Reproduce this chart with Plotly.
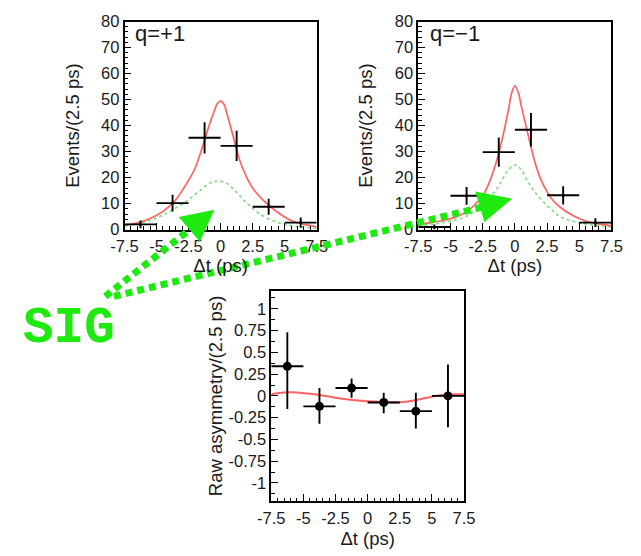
import plotly.graph_objects as go

W, H = 641, 556

# ---------------- data ----------------
dt_bins = [-6.25, -3.75, -1.25, 1.25, 3.75, 6.25]
bin_half = 1.25

qp_events = [2.0, 10.2, 35.3, 32.2, 8.8, 2.7]
qp_err = [1.5, 3.2, 6.0, 5.8, 3.1, 2.0]
qm_events = [1.0, 13.0, 29.8, 38.4, 13.2, 2.7]
qm_err = [1.0, 3.4, 5.6, 6.4, 3.5, 1.7]

asym = [0.34, -0.12, 0.09, -0.075, -0.175, 0.0]
asym_err_up = [0.39, 0.21, 0.11, 0.11, 0.21, 0.36]
asym_err_dn = [0.49, 0.20, 0.11, 0.125, 0.20, 0.36]

# fit curves
qp_curve_x = [-7.5, -6.5, -5.5, -4.5, -3.5, -2.5, -2.0, -1.5, -1.0, -0.5, -0.25, 0.0,
              0.25, 0.5, 1.0, 1.5, 2.0, 2.5, 3.5, 4.5, 5.5, 6.5, 7.5]
qp_total = [1.7, 2.6, 4.3, 7.0, 11.5, 19.0, 23.5, 30.5, 38.5, 45.5, 48.5, 49.5,
            48.3, 44.5, 35.5, 26.5, 20.5, 16.0, 10.5, 6.5, 3.5, 2.0, 1.1]
qp_sig_x = [-7.5, -6.5, -5.5, -4.5, -3.5, -2.5, -1.5, -1.0, -0.5, -0.2,
            0.5, 1.0, 1.5, 2.0, 2.5, 3.0, 4.0, 5.0, 6.0, 7.5]
qp_sig = [1.3, 2.2, 3.5, 5.6, 8.3, 11.5, 15.5, 17.4, 18.5, 18.7,
          17.8, 15.5, 13.0, 10.4, 8.3, 6.2, 3.6, 2.0, 1.2, 0.5]

qm_curve_x = [-7.5, -6.5, -5.5, -4.5, -3.5, -3.0, -2.5, -2.0, -1.5, -1.0, -0.5, -0.25, 0.0,
              0.25, 0.5, 1.0, 1.5, 2.0, 2.5, 3.0, 3.5, 4.5, 5.5, 6.5, 7.5]
qm_total = [2.0, 2.7, 3.6, 5.0, 7.8, 10.2, 13.0, 18.0, 25.0, 34.5, 46.0, 52.5, 55.3,
            53.0, 47.5, 37.0, 27.0, 19.5, 14.5, 11.0, 8.7, 5.4, 3.3, 2.2, 1.5]
qm_sig_x = [-7.5, -6.5, -5.5, -4.5, -3.5, -2.5, -2.0, -1.5, -1.0, -0.5, 0.0,
            0.5, 1.0, 1.5, 2.0, 2.5, 3.0, 3.5, 4.5, 5.5, 6.5, 7.5]
qm_sig = [1.5, 2.0, 2.8, 3.8, 5.8, 9.6, 12.3, 15.0, 19.0, 23.0, 24.9,
          23.0, 18.5, 14.8, 11.8, 9.2, 7.0, 5.0, 3.2, 2.2, 1.5, 1.1]

asym_curve_x = [-7.5, -6.5, -5.5, -4.5, -3.5, -2.5, -1.5, -0.5, 0.5, 1.5,
                2.5, 3.5, 4.5, 5.5, 6.5, 7.5]
asym_curve = [0.02, 0.04, 0.04, 0.025, 0.005, -0.02, -0.04, -0.055, -0.065, -0.072,
              -0.072, -0.055, -0.025, 0.005, 0.018, 0.02]

x_ticks = [-7.5, -5, -2.5, 0, 2.5, 5, 7.5]
x_ticktext = ["-7.5", "-5", "-2.5", "0", "2.5", "5", "7.5"]
ev_ticks = [0, 10, 20, 30, 40, 50, 60, 70, 80]
as_ticks = [-1, -0.75, -0.5, -0.25, 0, 0.25, 0.5, 0.75, 1]
as_ticktext = ["-1", "-0.75", "-0.5", "-0.25", "0", "0.25", "0.5", "0.75", "1"]

# ---------------- styles ----------------
FONT = "Liberation Sans, Arial, sans-serif"
RED = "rgba(255,70,70,0.85)"
LGREEN = "rgba(120,215,120,0.95)"
GREEN = "#1eea10"


def px(x):
    return x / W


def py(y):
    return 1 - y / H


fig = go.Figure()


def add_panel(xa, ya, tot_x, tot, sig_x, sig, ev, err):
    fig.add_trace(go.Scatter(x=sig_x, y=sig, mode="lines", xaxis=xa, yaxis=ya,
                             line=dict(color=LGREEN, width=1.6, dash="dot", shape="spline"),
                             hoverinfo="skip"))
    fig.add_trace(go.Scatter(x=tot_x, y=tot, mode="lines", xaxis=xa, yaxis=ya,
                             line=dict(color=RED, width=1.7, shape="spline"),
                             hoverinfo="skip"))
    fig.add_trace(go.Scatter(x=dt_bins, y=ev, mode="markers", xaxis=xa, yaxis=ya,
                             marker=dict(color="black", size=3),
                             error_x=dict(type="constant", value=bin_half, width=0,
                                          thickness=1.9, color="black"),
                             error_y=dict(type="data", array=err, width=0,
                                          thickness=1.9, color="black")))


add_panel("x", "y", qp_curve_x, qp_total, qp_sig_x, qp_sig, qp_events, qp_err)
add_panel("x2", "y2", qm_curve_x, qm_total, qm_sig_x, qm_sig, qm_events, qm_err)

fig.add_trace(go.Scatter(x=asym_curve_x, y=asym_curve, mode="lines", xaxis="x3", yaxis="y3",
                         line=dict(color=RED, width=2, shape="spline"), hoverinfo="skip"))
fig.add_trace(go.Scatter(x=dt_bins, y=asym, mode="markers", xaxis="x3", yaxis="y3",
                         marker=dict(color="black", size=9),
                         error_x=dict(type="constant", value=bin_half, width=0,
                                      thickness=1.9, color="black"),
                         error_y=dict(type="data", symmetric=False, array=asym_err_up,
                                      arrayminus=asym_err_dn, width=0,
                                      thickness=1.9, color="black")))

tickfont = dict(family=FONT, size=16.5, color="#1a1a1a")
titlefont = dict(family=FONT, size=18.5, color="#1a1a1a")
common = dict(showline=True, linecolor="black", linewidth=1.7, mirror=True,
              ticks="inside", ticklen=7, tickwidth=1.4, tickcolor="black",
              showgrid=False, zeroline=False, tickfont=tickfont, tickmode="array")


def xaxis(domain, anchor, standoff):
    return dict(common, domain=domain, anchor=anchor, range=[-7.5, 7.5],
                tickvals=x_ticks, ticktext=x_ticktext, ticklabelstandoff=1,
                minor=dict(ticks="inside", ticklen=3.5, tickwidth=1.2, tickcolor="black",
                           tickmode="linear", tick0=0, dtick=0.5, showgrid=False),
                title=dict(text="Δt (ps)", font=titlefont, standoff=standoff))


def yaxis_ev(domain, anchor):
    return dict(common, domain=domain, anchor=anchor, range=[0, 80],
                tickvals=ev_ticks, ticktext=[str(v) for v in ev_ticks],
                minor=dict(ticks="inside", ticklen=3.5, tickwidth=1.2, tickcolor="black",
                           tickmode="linear", tick0=0, dtick=2, showgrid=False),
                title=dict(text="Events/(2.5 ps)", font=titlefont, standoff=17))


top_y = [py(228), py(13)]
fig.update_layout(
    width=W, height=H,
    margin=dict(l=0, r=0, t=0, b=0),
    paper_bgcolor="white", plot_bgcolor="white",
    showlegend=False,
    xaxis=xaxis([px(115), px(315)], "y", 3),
    yaxis=yaxis_ev(top_y, "x"),
    xaxis2=xaxis([px(420.7), px(621.7)], "y2", 3),
    yaxis2=yaxis_ev(top_y, "x2"),
    xaxis3=xaxis([px(267.7), px(468.3)], "y3", 6),
    yaxis3=dict(common, domain=[py(508.7), py(291)], anchor="x3", range=[-1.21, 1.21],
                tickvals=as_ticks, ticktext=as_ticktext,
                minor=dict(ticks="inside", ticklen=3.5, tickwidth=1.2, tickcolor="black",
                           tickmode="linear", tick0=0, dtick=0.125, showgrid=False),
                title=dict(text="Raw asymmetry/(2.5 ps)", font=titlefont, standoff=1)),
)

fig.add_annotation(text="q=+1", xref="paper", yref="paper", x=px(124), y=py(25),
                   xanchor="left", yanchor="middle", showarrow=False,
                   font=dict(family=FONT, size=22, color="#1a1a1a"))
fig.add_annotation(text="q=−1", xref="paper", yref="paper", x=px(431), y=py(25),
                   xanchor="left", yanchor="middle", showarrow=False,
                   font=dict(family=FONT, size=22, color="#1a1a1a"))

# SIG label with dotted arrows
fig.add_annotation(text="<b>SIG</b>", xref="paper", yref="paper", x=px(57), y=py(330),
                   xanchor="center", yanchor="middle", showarrow=False,
                   font=dict(family="Liberation Mono, Courier New, monospace", size=51,
                             color=GREEN))

arrows = [
    ((95, 297), (184, 227), [(208.5, 207.5), (171.5, 215), (193.5, 240.5)]),
    ((104, 297), (486, 205), [(518.5, 196), (480, 188.5), (489.5, 220)]),
]
for (x0, y0), (x1, y1), tri in arrows:
    fig.add_shape(type="line", xref="paper", yref="paper",
                  x0=px(x0), y0=py(y0), x1=px(x1), y1=py(y1), layer="above",
                  line=dict(color=GREEN, width=7, dash="7px,5px"))
    path = "M {:.5f},{:.5f} L {:.5f},{:.5f} L {:.5f},{:.5f} Z".format(
        px(tri[0][0]), py(tri[0][1]), px(tri[1][0]), py(tri[1][1]),
        px(tri[2][0]), py(tri[2][1]))
    fig.add_shape(type="path", xref="paper", yref="paper", path=path, layer="above",
                  fillcolor=GREEN, line=dict(color=GREEN, width=0))

fig.write_html("out.html")
